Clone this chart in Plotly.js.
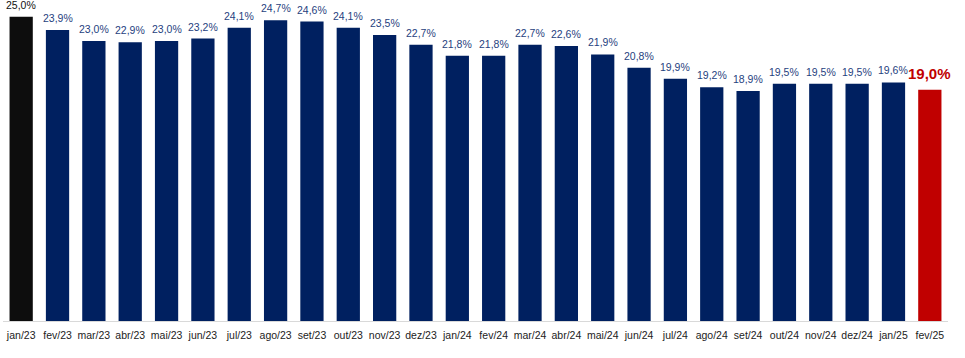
<!DOCTYPE html>
<html>
<head>
<meta charset="utf-8">
<script src="https://cdn.plot.ly/plotly-3.0.1.min.js"></script>
<style>html,body{margin:0;padding:0;background:#fff;}#chart{width:965px;height:358px;}</style>
</head>
<body>
<div id="chart"></div>
<script>
const months = ["jan/23","fev/23","mar/23","abr/23","mai/23","jun/23","jul/23","ago/23","set/23","out/23","nov/23","dez/23","jan/24","fev/24","mar/24","abr/24","mai/24","jun/24","jul/24","ago/24","set/24","out/24","nov/24","dez/24","jan/25","fev/25"];
const values = [25.0,23.9,23.0,22.9,23.0,23.2,24.1,24.7,24.6,24.1,23.5,22.7,21.8,21.8,22.7,22.6,21.9,20.8,19.9,19.2,18.9,19.5,19.5,19.5,19.6,19.0];

const n = values.length;
const barColors = values.map((v,i)=> i===0 ? '#0D0D0D' : (i===n-1 ? '#C00000' : '#002060'));
const textColors = values.map((v,i)=> i===0 ? '#111111' : (i===n-1 ? '#C00000' : '#1F3F80'));

const trace = {
  type: 'bar',
  x: months,
  y: values,
  marker: {color: barColors, line: {width: 0}},
  width: 0.64,
  hoverinfo: 'skip'
};

const annotations = values.map((v,i)=>{
  const last = i===n-1;
  const label = v.toFixed(1).replace('.', ',') + '%';
  return {
    x: months[i], y: v, xref: 'x', yref: 'y',
    text: last ? '<b>' + label + '</b>' : label,
    showarrow: false, yanchor: 'bottom', xanchor: 'center',
    yshift: last ? 6 : 4,
    font: {family: 'Liberation Sans, Arial, sans-serif', size: last ? 15 : 10.5, color: textColors[i]}
  };
});

const layout = {
  width: 965,
  height: 358,
  margin: {l: 3, r: 17, t: 10, b: 37},
  paper_bgcolor: '#ffffff',
  plot_bgcolor: '#ffffff',
  showlegend: false,
  annotations: annotations,
  xaxis: {
    type: 'category',
    range: [-0.5, n - 0.5],
    showline: true,
    linecolor: '#D9D9D9',
    linewidth: 1,
    ticks: '',
    ticklabelstandoff: 4,
    showgrid: false,
    tickfont: {family: 'Liberation Sans, Arial, sans-serif', size: 10.5, color: '#222222'},
    tickangle: 0
  },
  yaxis: {
    range: [0, 25.55],
    visible: false,
    showgrid: false,
    zeroline: false
  }
};

Plotly.newPlot('chart', [trace], layout, {displayModeBar: false, staticPlot: true});
</script>
</body>
</html>
